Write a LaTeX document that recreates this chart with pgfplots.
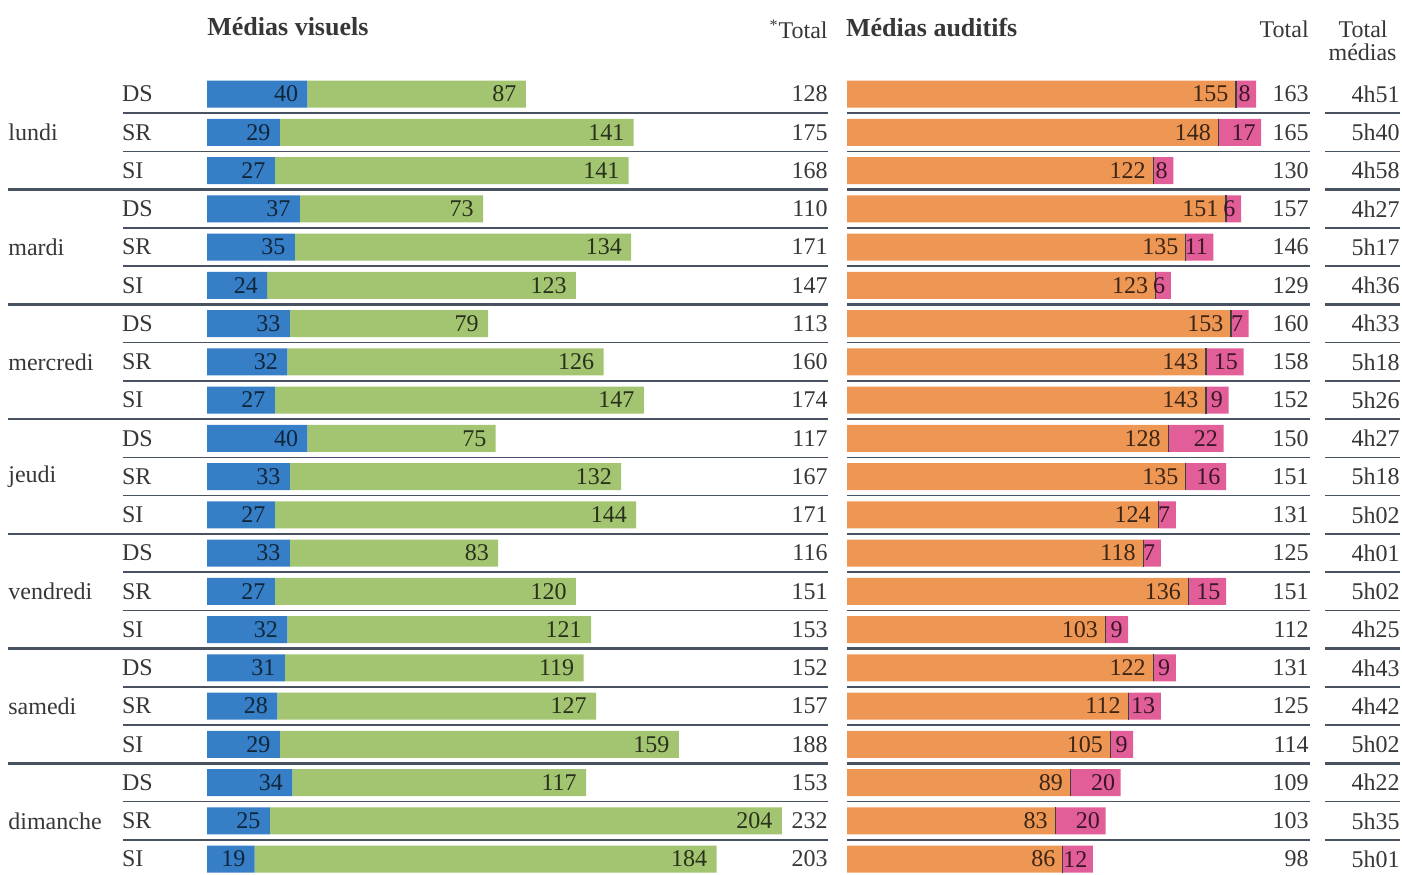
\documentclass[border=0pt]{standalone}
\usepackage{pgfplots}
\pgfplotsset{compat=1.18}
\usepackage{pgfplotstable}
\usepackage{fontspec}
\setmainfont{Liberation Serif}
\definecolor{cblue}{RGB}{54,126,198}
\definecolor{cgreen}{RGB}{163,196,112}
\definecolor{corange}{RGB}{238,150,84}
\definecolor{cpink}{RGB}{226,94,152}
\definecolor{cline}{RGB}{72,82,96}
\definecolor{ctext}{RGB}{55,55,55}

\pgfplotstableread{
row lab blue green vtot orange pink atot tm
0 DS 40 87 128 155 8 163 4h51
1 SR 29 141 175 148 17 165 5h40
2 SI 27 141 168 122 8 130 4h58
3 DS 37 73 110 151 6 157 4h27
4 SR 35 134 171 135 11 146 5h17
5 SI 24 123 147 123 6 129 4h36
6 DS 33 79 113 153 7 160 4h33
7 SR 32 126 160 143 15 158 5h18
8 SI 27 147 174 143 9 152 5h26
9 DS 40 75 117 128 22 150 4h27
10 SR 33 132 167 135 16 151 5h18
11 SI 27 144 171 124 7 131 5h02
12 DS 33 83 116 118 7 125 4h01
13 SR 27 120 151 136 15 151 5h02
14 SI 32 121 153 103 9 112 4h25
15 DS 31 119 152 122 9 131 4h43
16 SR 28 127 157 112 13 125 4h42
17 SI 29 159 188 105 9 114 5h02
18 DS 34 117 153 89 20 109 4h22
19 SR 25 204 232 83 20 103 5h35
20 SI 19 184 203 86 12 98 5h01
}\data

\pgfplotstableread{
row day
1 lundi
4 mardi
7 mercredi
10 jeudi
13 vendredi
16 samedi
19 dimanche
}\days

\pgfplotsset{
  rowax/.style={x=1.255pt, y=19.125pt, y dir=reverse, ymin=-0.5, ymax=20.5,
    hide axis, clip=false, anchor=north west},
  txt/.style={draw=none, mark=none, nodes near coords={\pgfplotspointmeta},
    point meta=explicit symbolic,
    every node near coord/.append style={inner sep=0pt, text=ctext, font=\fontsize{12}{14}\selectfont}},
  inbar/.style={txt, every node near coord/.append style={anchor=east, xshift=#1}},
}
\newcommand{\numfont}{\fontsize{12}{14}\selectfont}
\newcommand{\headfont}{\fontsize{13}{15}\selectfont\bfseries}

\begin{document}
\begin{tikzpicture}
\useasboundingbox (0,0) rectangle (701pt,-437pt);

% ---------- visual bars ----------
\begin{axis}[rowax, at={(103.5pt,-37.45pt)}, xmin=0, xmax=248,
  xbar stacked, bar width=13.5pt]
\addplot[fill=cblue, draw=none] table[x=blue, y=row]{\data};
\addplot[fill=cgreen, draw=none] table[x=green, y=row]{\data};
\end{axis}

% ---------- visual text & lines ----------
\begin{axis}[rowax, at={(103.5pt,-37.45pt)}, xmin=0, xmax=248]
\pgfplotsinvokeforeach{0.5,1.5,3.5,4.5,6.5,7.5,9.5,10.5,12.5,13.5,15.5,16.5,18.5,19.5}{
  \draw[cline, line width=0.8pt] (axis cs:-33.5,#1) -- (axis cs:247.4,#1);
}
\pgfplotsinvokeforeach{2.5,5.5,8.5,11.5,14.5,17.5}{
  \draw[cline, line width=1.2pt] (axis cs:-79.3,#1) -- (axis cs:247.4,#1);
}
\addplot[inbar=-4.5pt, every node near coord/.append style={text=cblue!30!black}]
  table[x=blue, y=row, meta=blue]{\data};
\addplot[inbar=-4.5pt, every node near coord/.append style={text=cgreen!25!black}]
  table[x expr=\thisrow{blue}+\thisrow{green}, y=row, meta=green]{\data};
\addplot[txt, every node near coord/.append style={anchor=west}]
  table[x expr=-34, y=row, meta=lab]{\data};
\addplot[txt, every node near coord/.append style={anchor=west}]
  table[x expr=-79.3, y=row, meta=day]{\days};
\addplot[txt, every node near coord/.append style={anchor=east}]
  table[x expr=247.4, y=row, meta=vtot]{\data};
\node[anchor=west, inner sep=0pt, text=ctext, font=\headfont] at (axis cs:0,-1.75) {Médias visuels};
\node[anchor=east, inner sep=0pt, text=ctext, font=\numfont] at (axis cs:247.4,-1.69) {\textsuperscript{*}Total};
\end{axis}

% ---------- audio bars ----------
\begin{axis}[rowax, at={(423.5pt,-37.45pt)}, xmin=0, xmax=221,
  xbar stacked, bar width=13.5pt]
\addplot[fill=corange, draw=none] table[x=orange, y=row]{\data};
\addplot[fill=cpink, draw=none] table[x=pink, y=row]{\data};
\end{axis}

% ---------- audio text & lines ----------
\begin{axis}[rowax, at={(423.5pt,-37.45pt)}, xmin=0, xmax=221]
\pgfplotsinvokeforeach{0.5,1.5,3.5,4.5,6.5,7.5,9.5,10.5,12.5,13.5,15.5,16.5,18.5,19.5}{
  \draw[cline, line width=0.8pt] (axis cs:0,#1) -- (axis cs:184.5,#1);
  \draw[cline, line width=0.8pt] (axis cs:190.4,#1) -- (axis cs:220.3,#1);
}
\pgfplotsinvokeforeach{2.5,5.5,8.5,11.5,14.5,17.5}{
  \draw[cline, line width=1.2pt] (axis cs:0,#1) -- (axis cs:184.5,#1);
  \draw[cline, line width=1.2pt] (axis cs:190.4,#1) -- (axis cs:220.3,#1);
}
\addplot[only marks, mark=|, mark size=6.75pt, mark options={line width=0.6pt, draw=black!75}]
  table[x=orange, y=row]{\data};
\addplot[inbar=-3.6pt, every node near coord/.append style={text=corange!25!black}]
  table[x=orange, y=row, meta=orange]{\data};
\addplot[inbar=-2.6pt, every node near coord/.append style={text=cpink!25!black}]
  table[x expr=\thisrow{orange}+\thisrow{pink}, y=row, meta=pink]{\data};
\addplot[txt, every node near coord/.append style={anchor=east}]
  table[x expr=184.1, y=row, meta=atot]{\data};
\addplot[txt, every node near coord/.append style={anchor=east}]
  table[x expr=220.3, y=row, meta=tm]{\data};
\node[anchor=west, inner sep=0pt, text=ctext, font=\headfont] at (axis cs:-0.5,-1.75) {Médias auditifs};
\node[anchor=east, inner sep=0pt, text=ctext, font=\numfont] at (axis cs:184.1,-1.69) {Total};
\node[inner sep=0pt, text=ctext, font=\numfont] at (axis cs:205.6,-1.69) {Total};
\node[inner sep=0pt, text=ctext, font=\numfont] at (axis cs:205.4,-1.10) {médias};
\end{axis}
\end{tikzpicture}
\end{document}
